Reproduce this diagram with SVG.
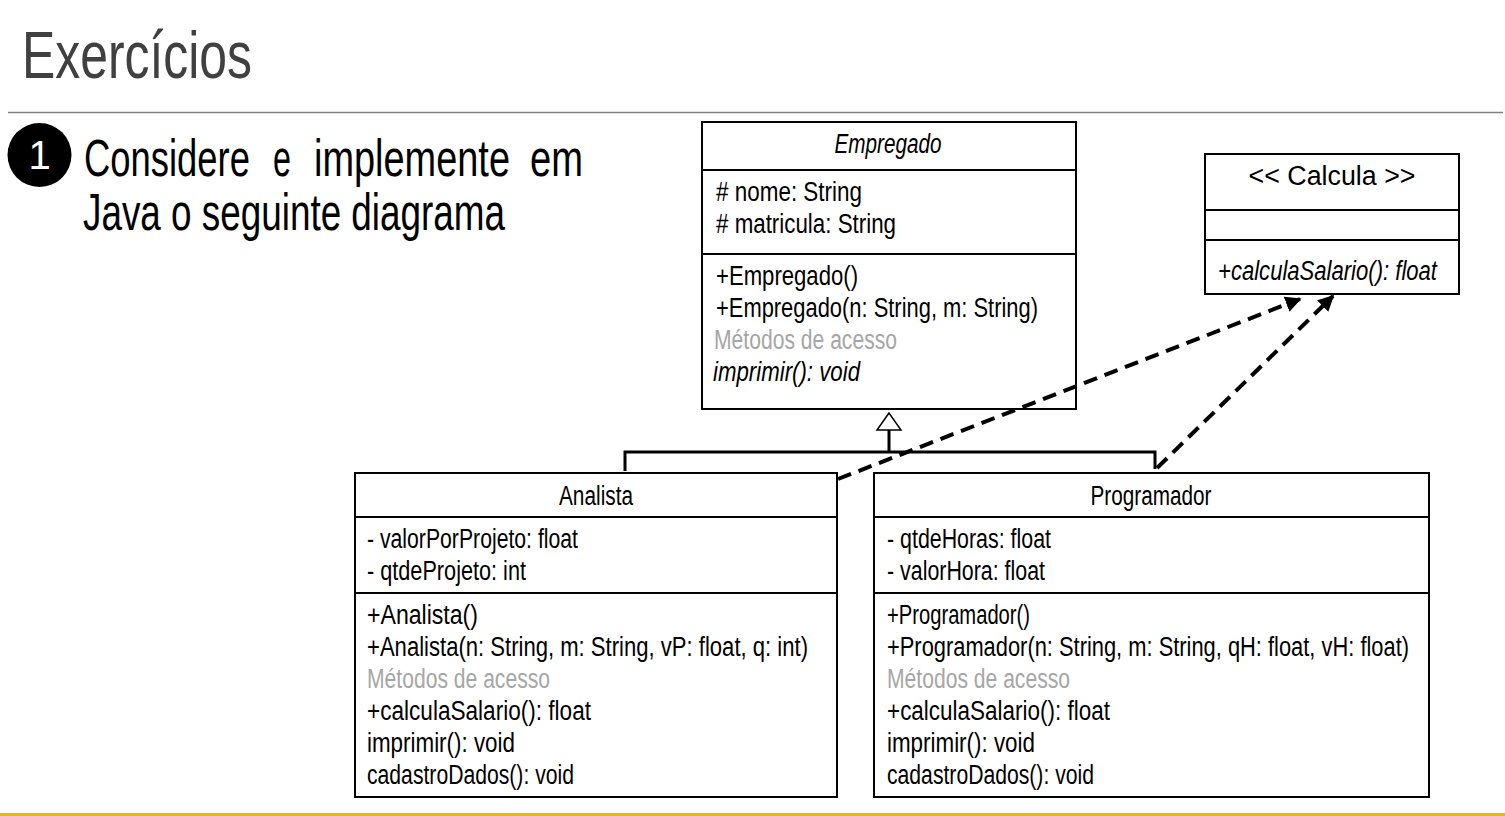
<svg xmlns="http://www.w3.org/2000/svg" width="1505" height="816" viewBox="0 0 1505 816">
  <style>
    text { font-family: "Liberation Sans Narrow", "Liberation Sans", Arial, sans-serif; }
    .uml { font-size: 27px; fill: #000; }
    .it { font-style: italic; }
    .gray { fill: #a6a6a6; }
    .box { fill: #fff; stroke: #000; stroke-width: 2; }
    .div { stroke: #000; stroke-width: 2; }
    .gen { stroke: #000; stroke-width: 3; fill: none; }
    .dep { stroke: #000; stroke-width: 4; fill: none; stroke-dasharray: 14 8; }
  </style>
  <defs>
    <marker id="arrow" viewBox="0 0 10 10" refX="9" refY="5" markerWidth="4" markerHeight="4" orient="auto" markerUnits="strokeWidth">
      <path d="M0,0 L10,5 L0,10 Z" fill="#000"/>
    </marker>
  </defs>

  <rect width="1505" height="816" fill="#fff"/>

  <!-- slide header -->
  <g id="header">
    <text x="22" y="78" font-size="66" fill="#404040" textLength="230" lengthAdjust="spacingAndGlyphs">Exercícios</text>
    <line x1="8" y1="112.5" x2="1503" y2="112.5" stroke="#808080" stroke-width="1.5"/>
    <circle cx="39.5" cy="155" r="32" fill="#000"/>
    <text x="39.5" y="169" font-size="40" fill="#fff" text-anchor="middle">1</text>
    <text x="84" y="176" font-size="52" fill="#000" textLength="166" lengthAdjust="spacingAndGlyphs">Considere</text>
    <text x="273" y="176" font-size="52" fill="#000" textLength="18" lengthAdjust="spacingAndGlyphs">e</text>
    <text x="314" y="176" font-size="52" fill="#000" textLength="196" lengthAdjust="spacingAndGlyphs">implemente</text>
    <text x="530" y="176" font-size="52" fill="#000" textLength="53" lengthAdjust="spacingAndGlyphs">em</text>
    <text x="83" y="230" font-size="52" fill="#000" textLength="422" lengthAdjust="spacingAndGlyphs">Java o seguinte diagrama</text>
  </g>

  <!-- class Empregado -->
  <g id="empregado">
    <rect class="box" x="702" y="122" width="374" height="287"/>
    <line class="div" x1="702" y1="170" x2="1076" y2="170"/>
    <line class="div" x1="702" y1="254" x2="1076" y2="254"/>
    <text class="uml it" x="888" y="153" text-anchor="middle" textLength="107" lengthAdjust="spacingAndGlyphs">Empregado</text>
    <text class="uml" x="716" y="201" textLength="146" lengthAdjust="spacingAndGlyphs"># nome: String</text>
    <text class="uml" x="716" y="233" textLength="180" lengthAdjust="spacingAndGlyphs"># matricula: String</text>
    <text class="uml" x="716" y="285" textLength="142" lengthAdjust="spacingAndGlyphs">+Empregado()</text>
    <text class="uml" x="716" y="317" textLength="322" lengthAdjust="spacingAndGlyphs">+Empregado(n: String, m: String)</text>
    <text class="uml gray" x="714" y="349" textLength="183" lengthAdjust="spacingAndGlyphs">Métodos de acesso</text>
    <text class="uml it" x="713" y="381" textLength="147" lengthAdjust="spacingAndGlyphs">imprimir(): void</text>
  </g>

  <!-- interface Calcula -->
  <g id="calcula">
    <rect class="box" x="1205" y="154" width="254" height="140" stroke-width="1.5"/>
    <line class="div" x1="1205" y1="210" x2="1459" y2="210" stroke-width="1.5"/>
    <line class="div" x1="1205" y1="240" x2="1459" y2="240" stroke-width="1.5"/>
    <text class="uml" x="1332" y="185" text-anchor="middle" textLength="167" lengthAdjust="spacingAndGlyphs">&lt;&lt; Calcula &gt;&gt;</text>
    <text class="uml it" x="1218" y="280" textLength="219" lengthAdjust="spacingAndGlyphs">+calculaSalario(): float</text>
  </g>

  <!-- class Analista -->
  <g id="analista">
    <rect class="box" x="355" y="473" width="482" height="324"/>
    <line class="div" x1="355" y1="517" x2="837" y2="517"/>
    <line class="div" x1="355" y1="593" x2="837" y2="593"/>
    <text class="uml" x="596" y="505" text-anchor="middle" textLength="74" lengthAdjust="spacingAndGlyphs">Analista</text>
    <text class="uml" x="367" y="548" textLength="211" lengthAdjust="spacingAndGlyphs">- valorPorProjeto: float</text>
    <text class="uml" x="367" y="580" textLength="159" lengthAdjust="spacingAndGlyphs">- qtdeProjeto: int</text>
    <text class="uml" x="367" y="624" textLength="111" lengthAdjust="spacingAndGlyphs">+Analista()</text>
    <text class="uml" x="367" y="656" textLength="441" lengthAdjust="spacingAndGlyphs">+Analista(n: String, m: String, vP: float, q: int)</text>
    <text class="uml gray" x="367" y="688" textLength="183" lengthAdjust="spacingAndGlyphs">Métodos de acesso</text>
    <text class="uml" x="367" y="720" textLength="224" lengthAdjust="spacingAndGlyphs">+calculaSalario(): float</text>
    <text class="uml" x="367" y="752" textLength="148" lengthAdjust="spacingAndGlyphs">imprimir(): void</text>
    <text class="uml" x="367" y="784" textLength="207" lengthAdjust="spacingAndGlyphs">cadastroDados(): void</text>
  </g>

  <!-- class Programador -->
  <g id="programador">
    <rect class="box" x="874" y="473" width="555" height="324"/>
    <line class="div" x1="874" y1="517" x2="1429" y2="517"/>
    <line class="div" x1="874" y1="593" x2="1429" y2="593"/>
    <text class="uml" x="1151" y="505" text-anchor="middle" textLength="121" lengthAdjust="spacingAndGlyphs">Programador</text>
    <text class="uml" x="887" y="548" textLength="164" lengthAdjust="spacingAndGlyphs">- qtdeHoras: float</text>
    <text class="uml" x="887" y="580" textLength="158" lengthAdjust="spacingAndGlyphs">- valorHora: float</text>
    <text class="uml" x="887" y="624" textLength="143" lengthAdjust="spacingAndGlyphs">+Programador()</text>
    <text class="uml" x="887" y="656" textLength="522" lengthAdjust="spacingAndGlyphs">+Programador(n: String, m: String, qH: float, vH: float)</text>
    <text class="uml gray" x="887" y="688" textLength="183" lengthAdjust="spacingAndGlyphs">Métodos de acesso</text>
    <text class="uml" x="887" y="720" textLength="223" lengthAdjust="spacingAndGlyphs">+calculaSalario(): float</text>
    <text class="uml" x="887" y="752" textLength="148" lengthAdjust="spacingAndGlyphs">imprimir(): void</text>
    <text class="uml" x="887" y="784" textLength="207" lengthAdjust="spacingAndGlyphs">cadastroDados(): void</text>
  </g>

  <!-- connectors: generalization and realization, drawn over the boxes -->
  <g id="connectors">
    <polyline class="gen" points="625,471 625,452 1155,452 1155,469"/>
    <line class="gen" x1="889" y1="452" x2="889" y2="430"/>
    <polygon points="889,413 877,430 901,430" fill="#fff" stroke="#000" stroke-width="1.5"/>
    <line class="dep" x1="838" y1="479" x2="1300" y2="299" marker-end="url(#arrow)"/>
    <line class="dep" x1="1157" y1="468" x2="1333" y2="296" marker-end="url(#arrow)"/>
  </g>

  <!-- slide footer rule -->
  <line x1="0" y1="814.5" x2="1505" y2="814.5" stroke="#f2b705" stroke-width="3"/>
</svg>
